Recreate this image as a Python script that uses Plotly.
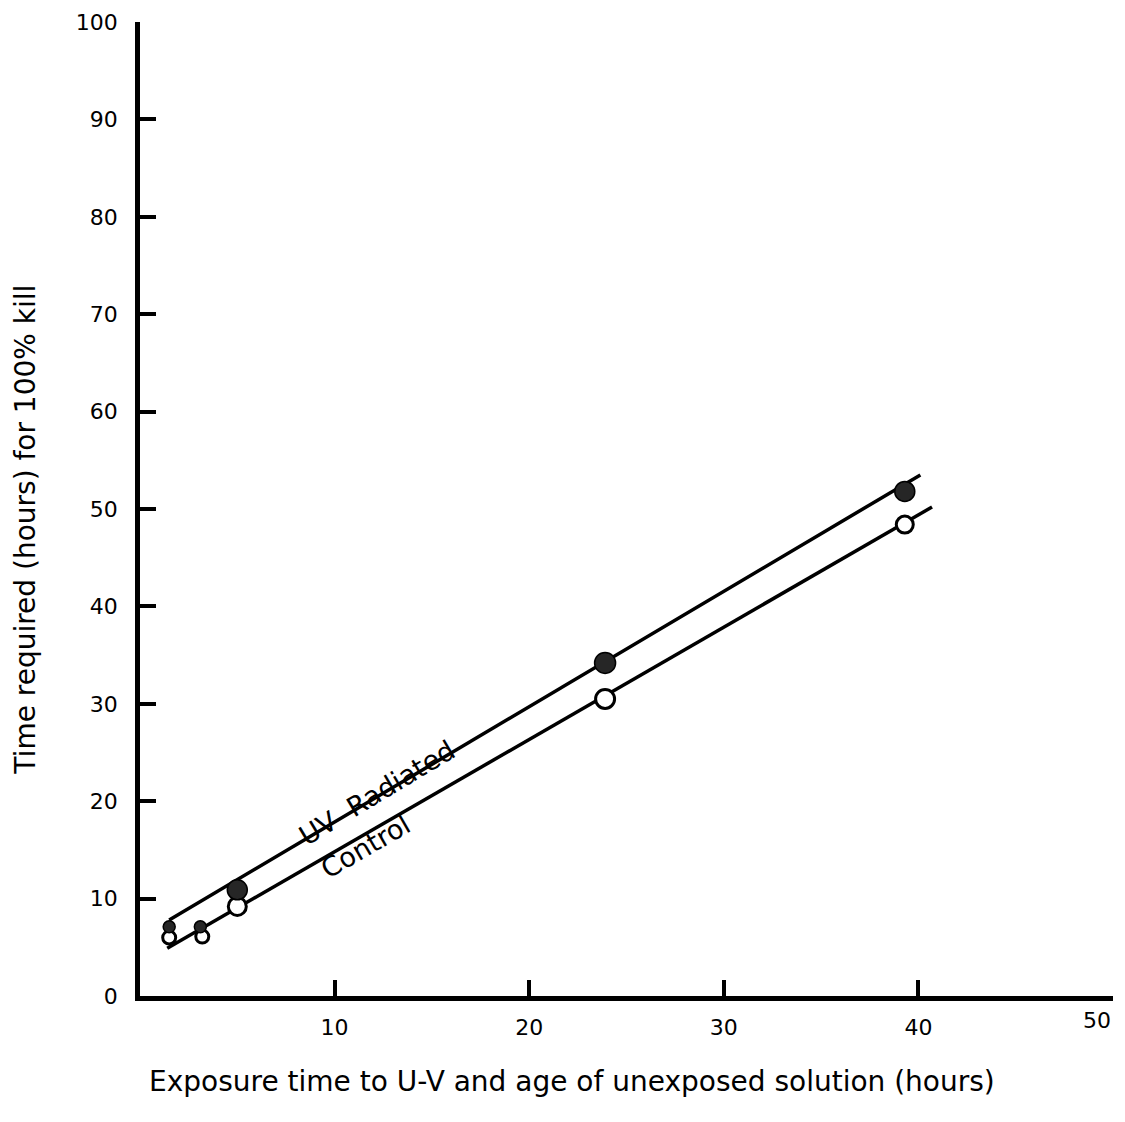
import plotly.graph_objects as go

# Data
uv_x = [1.5, 3.1, 5.0, 23.9, 39.3]
uv_y = [7.1, 7.1, 10.9, 34.2, 51.8]
ctrl_x = [1.5, 3.2, 5.0, 23.9, 39.3]
ctrl_y = [6.0, 6.1, 9.2, 30.5, 48.4]

uv_fit_x = [1.5, 40.1]
uv_fit_y = [7.8, 53.5]
ctrl_fit_x = [1.4, 40.7]
ctrl_fit_y = [4.9, 50.2]

x_ticks = [10, 20, 30, 40, 50]
x_ticktext = ["10", "20", "30", "40", ""]
y_ticks = [0, 10, 20, 30, 40, 50, 60, 70, 80, 90, 100]

uv_sizes = [12, 12, 20, 21, 20]
ctrl_sizes = [13, 13, 18, 19, 17]

FONT = "DejaVu Sans"

fig = go.Figure()
fig.add_trace(go.Scatter(x=uv_fit_x, y=uv_fit_y, mode="lines",
                         line=dict(color="black", width=3.5), showlegend=False))
fig.add_trace(go.Scatter(x=ctrl_fit_x, y=ctrl_fit_y, mode="lines",
                         line=dict(color="black", width=3.5), showlegend=False))
fig.add_trace(go.Scatter(x=ctrl_x, y=ctrl_y, mode="markers",
                         marker=dict(size=ctrl_sizes, color="white", opacity=1,
                                     line=dict(color="black", width=3)),
                         showlegend=False))
fig.add_trace(go.Scatter(x=uv_x, y=uv_y, mode="markers",
                         marker=dict(size=uv_sizes, color="#262626", opacity=1,
                                     line=dict(color="black", width=1.5)),
                         showlegend=False))

fig.update_layout(
    width=1117, height=1114,
    margin=dict(l=132, r=12, t=14, b=126),
    plot_bgcolor="white", paper_bgcolor="white",
    font=dict(family=FONT, size=22, color="black"),
    xaxis=dict(range=[0, 50], tickvals=x_ticks, ticktext=x_ticktext, ticks="inside", ticklen=16,
               tickwidth=3.5, tickcolor="black", showline=True, linewidth=4.5,
               linecolor="black", showgrid=False, zeroline=False, automargin=False,
               tickfont=dict(family=FONT, size=22), ticklabelstandoff=8),
    yaxis=dict(range=[0, 100], tickvals=y_ticks, ticks="inside", ticklen=16,
               tickwidth=3.5, tickcolor="black", showline=True, linewidth=4.5,
               linecolor="black", showgrid=False, zeroline=False, automargin=False,
               tickfont=dict(family=FONT, size=22), ticklabelstandoff=13),
)

# last x tick label kept inside the page edge
fig.add_annotation(x=50, y=0, xref="x", yref="y", text="50",
                   showarrow=False, xanchor="right", yanchor="top", yshift=-10,
                   font=dict(family=FONT, size=22, color="black"))

fig.add_annotation(x=12.2, y=20.9, xref="x", yref="y", text="UV  Radiated",
                   showarrow=False, textangle=-31,
                   font=dict(family=FONT, size=27, color="black"))
fig.add_annotation(x=11.6, y=15.3, xref="x", yref="y", text="Control",
                   showarrow=False, textangle=-30,
                   font=dict(family=FONT, size=27, color="black"))
fig.add_annotation(x=0.444, y=-0.088, xref="paper", yref="paper",
                   text="Exposure time to U-V and age of unexposed solution (hours)",
                   showarrow=False, yanchor="middle", xanchor="center",
                   font=dict(family=FONT, size=28, color="black"))
fig.add_annotation(x=-0.118, y=0.479, xref="paper", yref="paper",
                   text="Time required (hours) for 100% kill",
                   showarrow=False, textangle=-90, xanchor="center", yanchor="middle",
                   font=dict(family=FONT, size=28, color="black"))

fig.write_html("out.html")
